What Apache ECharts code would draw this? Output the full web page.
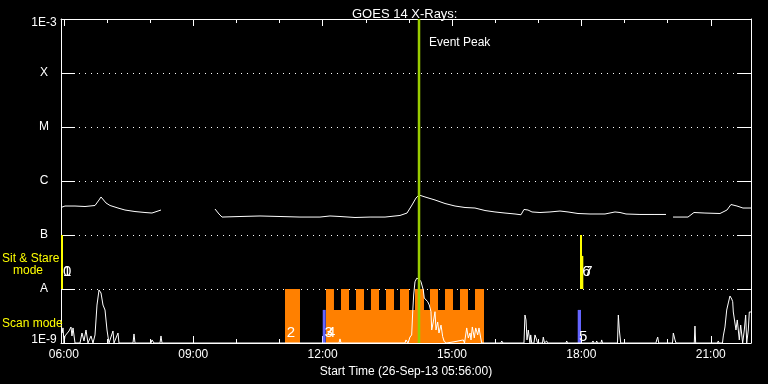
<!DOCTYPE html>
<html><head><meta charset="utf-8">
<script src="https://cdn.jsdelivr.net/npm/echarts@6/dist/echarts.min.js"></script>
<style>html,body{margin:0;padding:0;background:#000}#c{width:768px;height:384px}</style>
</head><body><div id="c"></div>
<script>
// ---- data (times in decimal hours UT, fluxes in W/m^2) ----
const majorHours = [6, 9, 12, 15, 18, 21];
const minorHours = [7, 8, 10, 11, 13, 14, 16, 17, 19, 20];
const levelNames = {'-9':'1E-9','-8':'A','-7':'B','-6':'C','-5':'M','-4':'X','-3':'1E-3'};

const longTime = [5.933,6.026,6.258,6.490,6.722,6.768,6.815,6.861,6.907,6.977,7.070,7.255,7.417,7.649,7.881,8.043,8.183,8.252,8.900,
  9.504,9.597,9.667,10.084,10.548,11.012,11.475,11.939,12.171,12.403,12.751,13.099,13.447,13.794,13.957,14.072,14.165,14.235,14.374,14.606,
  14.838,15.070,15.302,15.533,15.765,15.997,16.229,16.461,16.600,16.669,16.762,16.855,17.040,17.272,17.504,17.690,17.922,18.200,18.548,18.780,
  18.896,19.035,19.359,19.707,19.962,20.040,
  20.125,20.472,20.611,20.866,21.214,21.376,21.469,21.608,21.747,21.933];
const longFlux = [3.23e-7,3.44e-7,3.44e-7,3.37e-7,3.52e-7,3.75e-7,4.45e-7,5.06e-7,4.84e-7,3.92e-7,3.52e-7,3.16e-7,2.90e-7,2.72e-7,2.61e-7,2.55e-7,2.78e-7,2.90e-7,null,
  3.03e-7,2.45e-7,2.15e-7,2.20e-7,2.25e-7,2.20e-7,2.15e-7,2.15e-7,2.25e-7,2.20e-7,2.11e-7,2.15e-7,2.15e-7,2.30e-7,2.55e-7,3.59e-7,4.84e-7,5.51e-7,5.06e-7,4.45e-7,
  3.83e-7,3.44e-7,3.23e-7,3.16e-7,2.84e-7,2.67e-7,2.55e-7,2.45e-7,2.37e-7,2.97e-7,2.90e-7,2.67e-7,2.61e-7,2.67e-7,2.78e-7,2.67e-7,2.50e-7,2.45e-7,2.45e-7,2.67e-7,
  2.61e-7,2.45e-7,2.40e-7,2.40e-7,2.40e-7,null,
  2.15e-7,2.15e-7,2.61e-7,2.55e-7,2.50e-7,2.90e-7,3.67e-7,3.44e-7,3.16e-7,3.16e-7];

const shortTime = [5.933,5.956,5.980,6.003,6.026,6.072,6.119,6.165,6.188,6.212,6.258,6.374,6.420,6.467,6.513,6.559,6.629,6.675,6.722,6.768,
  6.815,6.861,6.907,6.954,7.000,7.046,7.139,7.162,7.255,7.278,7.603,7.626,7.649,8.020,8.043,8.090,8.229,8.252,8.275,12.380,12.403,12.426,
  13.910,13.933,13.980,14.026,14.065,14.088,14.111,14.142,14.181,14.235,14.281,14.334,14.357,14.397,14.436,14.473,14.513,14.529,14.566,14.606,
  14.629,14.668,14.698,14.745,14.784,14.821,14.877,15.070,15.093,15.262,15.290,15.341,15.378,15.418,15.441,15.471,15.517,15.550,15.596,15.626,
  15.666,15.689,16.136,16.152,16.182,16.669,16.692,16.716,16.739,16.769,16.808,16.825,16.848,16.901,16.924,16.964,16.982,17.098,17.117,17.145,
  17.180,17.196,17.214,17.643,17.660,17.678,18.246,18.269,18.292,18.339,18.355,18.374,18.455,18.471,18.490,18.838,18.857,18.880,18.912,
  19.730,19.747,19.770,19.793,20.113,20.132,20.171,20.194,20.618,20.634,20.650,21.156,21.174,21.191,21.272,21.291,21.330,21.370,21.407,21.446,
  21.486,21.509,21.523,21.562,21.585,21.615,21.662,21.694,21.740,21.778,21.810,21.834,21.871,21.894,21.933];
const shortFlux = [2.67e-9,1.53e-9,1.90e-9,1.0e-9,1.35e-9,1.24e-9,1.67e-9,1.98e-9,1.35e-9,1.90e-9,1e-9,1e-9,1.53e-9,1.09e-9,1.74e-9,1e-9,1.35e-9,1e-9,1.41e-9,5.05e-9,
  9.58e-9,8.43e-9,5.05e-9,4.08e-9,1.74e-9,1e-9,1.67e-9,1e-9,1.53e-9,1e-9,1e-9,1.47e-9,1e-9,1e-9,1.14e-9,1e-9,1e-9,1.35e-9,1e-9,1e-9,1.19e-9,1e-9,
  1e-9,1.14e-9,1e-9,1.29e-9,1.41e-9,3.59e-9,7.74e-9,1.36e-8,1.58e-8,1.53e-8,1.36e-8,9.58e-9,6.81e-9,6.26e-9,5.82e-9,5.05e-9,3.80e-9,1.74e-9,2.45e-9,3.80e-9,
  1.74e-9,2.45e-9,1.53e-9,2.15e-9,1.31e-9,1.06e-9,1e-9,1.06e-9,1e-9,1.14e-9,1e-9,1.90e-9,1.24e-9,1.53e-9,1.14e-9,1.98e-9,1.24e-9,1.90e-9,1.41e-9,1.90e-9,
  1.24e-9,1e-9,1e-9,1.09e-9,1e-9,1e-9,3.30e-9,2.67e-9,1.14e-9,1.74e-9,1e-9,1.41e-9,1e-9,1e-9,1.41e-9,1.14e-9,1e-9,1e-9,1.29e-9,1e-9,
  1e-9,1.09e-9,1e-9,1e-9,1.09e-9,1e-9,1e-9,1.09e-9,1e-9,1e-9,1.09e-9,1e-9,1e-9,1.14e-9,1e-9,1e-9,3.30e-9,1.74e-9,1e-9,
  1e-9,1.14e-9,1.29e-9,1e-9,1e-9,1.53e-9,1.14e-9,1e-9,1e-9,2.06e-9,1e-9,1e-9,1.09e-9,1e-9,1e-9,1.35e-9,1.98e-9,4.08e-9,5.51e-9,7.42e-9,
  6.53e-9,5.82e-9,3.75e-9,4.08e-9,1.74e-9,2.67e-9,1.14e-9,2.15e-9,1e-9,1.74e-9,3.30e-9,1e-9,1.74e-9,3.75e-9,3.75e-9];

// scan-mode intervals (orange)
const scanStart = [11.127,12.078,12.078,12.426,12.774,13.121,13.469,13.794,14.142,14.490,14.838,15.185,15.533];
const scanEnd   = [11.475,15.742,12.263,12.611,12.959,13.307,13.655,14.003,14.351,14.675,15.023,15.371,15.742];
const scanTop   = [1e-8,4.1e-9,1e-8,1e-8,1e-8,1e-8,1e-8,1e-8,1e-8,1e-8,1e-8,1e-8,1e-8];
// sit & stare intervals (yellow)
const stareStart = [5.933,17.968,17.992];
const stareEnd   = [5.980,18.015,18.045];
const stareTop   = [1e-7,1e-7,4.1e-8];
// other mode markers (blue)
const calStart = [12.002,17.915];
const calEnd   = [12.071,17.992];
const calTop   = [4.1e-9,4.1e-9];
// mode numbers
const modeText  = ['0','1','2','3','4','5','6','7'];
const modeTime  = [5.980,5.980,11.167,12.043,12.101,17.945,18.022,18.068];
const modeLevel = [2.07e-8,2.07e-8,1.56e-9,1.56e-9,1.56e-9,1.29e-9,2.07e-8,2.07e-8];
const peakTime = 14.235;

// ---- chart ----
const FONT = '"Liberation Sans", Arial, sans-serif';
const tStart = 5 + 56/60, tEnd = 21 + 56/60;
const pad = h => (h < 10 ? '0' : '') + h + ':00';

function rects(starts, ends, bottoms, tops, color, z) {
  return {
    type: 'custom', xAxisIndex: 0, yAxisIndex: 0, z: z, silent: true, clip: true,
    data: starts.map((s, i) => [s, ends[i], bottoms[i], tops[i]]),
    encode: {x: [0, 1], y: [2, 3]},
    renderItem: (params, api) => {
      const a = api.coord([api.value(0), api.value(3)]);
      const b = api.coord([api.value(1), api.value(2)]);
      return {type: 'rect', shape: {x: a[0], y: a[1], width: b[0] - a[0], height: b[1] - a[1]}, style: {fill: color}};
    }
  };
}

const xCommon = (pos, showLabel, ticks, len, showLine) => ({
  type: 'value', min: tStart, max: tEnd, position: pos,
  axisLine: {show: showLine, onZero: false, lineStyle: {color: '#fff', width: 1}},
  axisTick: {show: true, inside: true, length: len, customValues: ticks, lineStyle: {color: '#fff', width: 1}},
  axisLabel: {show: showLabel, customValues: ticks, formatter: v => pad(Math.round(v)), color: '#fff',
    fontSize: 12, fontFamily: FONT, margin: 6},
  splitLine: {show: false}
});

const yCommon = (pos, showLabel, split) => ({
  type: 'log', logBase: 10, min: 1e-9, max: 1e-3, splitNumber: 6, position: pos,
  axisLine: {show: true, onZero: false, lineStyle: {color: '#fff', width: 1}},
  axisTick: {show: true, inside: true, length: 14, lineStyle: {color: '#fff', width: 1}},
  axisLabel: {show: showLabel, color: '#fff', fontSize: 12, fontFamily: FONT, align: 'center', margin: 17,
    formatter: v => {
      const e = Math.round(Math.log10(v));
      if (e === -9) return '{lo|1E-9}';
      if (e === -3) return '{hi|1E-3}';
      return levelNames[e] || '';
    },
    rich: {
      lo: {padding: [0, 0, 7, 0], color: '#fff', fontSize: 12, fontFamily: FONT},
      hi: {padding: [8, 0, 0, 0], color: '#fff', fontSize: 12, fontFamily: FONT}
    }},
  splitLine: {show: split, lineStyle: {color: '#fff', width: 1, type: [1, 5]}}
});

const chart = echarts.init(document.getElementById('c'), null, {renderer: 'canvas'});
const xBottom = xCommon('bottom', true, majorHours, 7, true);
xBottom.name = 'Start Time (26-Sep-13 05:56:00)';
xBottom.nameLocation = 'middle';
xBottom.nameGap = 19;
xBottom.nameTextStyle = {color: '#fff', fontSize: 12, fontFamily: FONT};

chart.setOption({
  backgroundColor: '#000',
  animation: false,
  title: {text: 'GOES 14 X-Rays:', left: 347, top: 3,
    textStyle: {color: '#fff', fontSize: 13, fontWeight: 'normal', fontFamily: FONT}},
  grid: [
    {left: 61, right: 17, top: 19, bottom: 41, outerBoundsMode: 'none'},
    {left: 61, right: 17, top: 19, bottom: 41, outerBoundsMode: 'none'}
  ],
  xAxis: [
    Object.assign(xBottom, {gridIndex: 0}),
    Object.assign(xCommon('top', false, majorHours, 7, true), {gridIndex: 0}),
    Object.assign(xCommon('bottom', false, minorHours, 4, false), {gridIndex: 1}),
    Object.assign(xCommon('top', false, minorHours, 4, false), {gridIndex: 1})
  ],
  yAxis: [
    Object.assign(yCommon('left', true, true), {gridIndex: 0}),
    Object.assign(yCommon('right', false, false), {gridIndex: 0}),
    {type: 'value', gridIndex: 1, show: false}
  ],
  graphic: [
    {type: 'text', left: 429, top: 37, z: 100, style: {text: 'Event Peak', fill: '#fff', font: '12px ' + FONT}},
    {type: 'text', left: 2, top: 253, z: 100, style: {text: 'Sit & Stare', fill: '#ffff00', font: '12px ' + FONT}},
    {type: 'text', left: 13, top: 265, z: 100, style: {text: 'mode', fill: '#ffff00', font: '12px ' + FONT}},
    {type: 'text', left: 2, top: 318, z: 100, style: {text: 'Scan mode', fill: '#ffff00', font: '12px ' + FONT}}
  ],
  series: [
    rects(scanStart, scanEnd, scanStart.map(() => 1e-9), scanTop, '#ff8000', 1),
    rects(stareStart, stareEnd, stareStart.map(() => 1e-8), stareTop, '#ffff00', 1),
    rects(calStart, calEnd, calStart.map(() => 1e-9), calTop, '#6464ff', 1),
    {type: 'line', xAxisIndex: 0, yAxisIndex: 0, z: 3, symbol: 'none', connectNulls: false,
      data: longTime.map((t, i) => [t, longFlux[i]]), lineStyle: {color: '#fff', width: 1}},
    {type: 'line', xAxisIndex: 0, yAxisIndex: 0, z: 3, symbol: 'none',
      data: shortTime.map((t, i) => [t, shortFlux[i]]), lineStyle: {color: '#fff', width: 1}},
    {type: 'line', xAxisIndex: 0, yAxisIndex: 0, z: 4, symbol: 'none',
      data: [[peakTime, 1e-9], [peakTime, 1e-3]], lineStyle: {color: '#99cc00', width: 2.5}},
    {type: 'custom', xAxisIndex: 0, yAxisIndex: 0, z: 5, silent: true,
      data: modeTime.map((t, i) => [t, modeLevel[i]]),
      renderItem: (params, api) => {
        const p = api.coord([api.value(0), api.value(1)]);
        return {type: 'text', x: p[0], y: p[1],
          style: {text: modeText[params.dataIndex], fill: '#fff', font: '15px ' + FONT, align: 'left', verticalAlign: 'middle'}};
      }}
  ]
});
</script></body></html>
